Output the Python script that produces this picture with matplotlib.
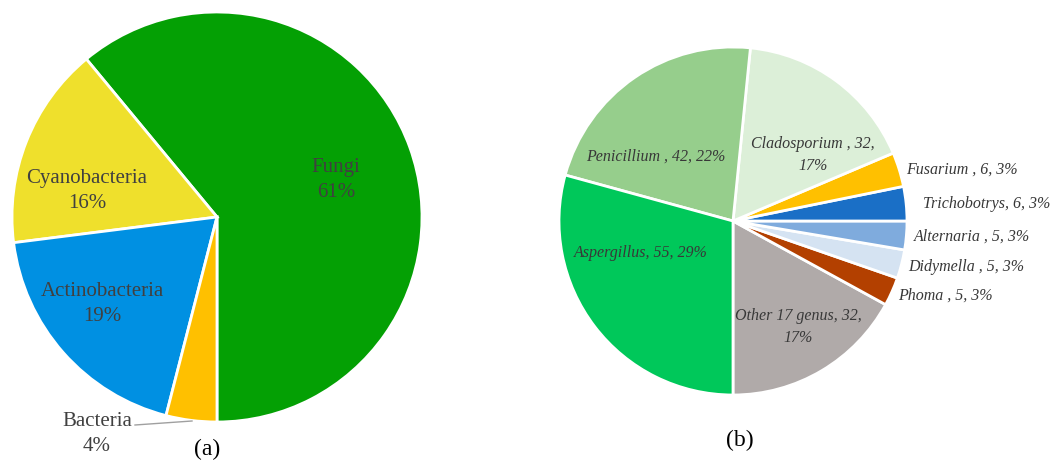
import matplotlib
matplotlib.use("Agg")
import matplotlib.pyplot as plt

# ---- data ----
groups_a = ["Fungi", "Cyanobacteria", "Actinobacteria", "Bacteria"]
pct_a = [61, 16, 19, 4]
colors_a = ["#04a004", "#efe02c", "#0090e2", "#ffc000"]

genera_b = ["Other 17 genus", "Phoma ", "Didymella ", "Alternaria ", "Trichobotrys",
            "Fusarium ", "Cladosporium ", "Penicillium ", "Aspergillus"]
counts_b = [32, 5, 5, 5, 6, 6, 32, 42, 55]
pct_b = [17, 3, 3, 3, 3, 3, 17, 22, 29]
colors_b = ["#b0aaa9", "#b34000", "#d5e3f2", "#7fabdd", "#1a6fc6",
            "#ffc000", "#dcefd8", "#96ce8c", "#00c85a"]

W, H = 1051, 464
fig = plt.figure(figsize=(W / 100, H / 100), dpi=100)
TXT = "#404040"
SERIF = ["Liberation Serif", "DejaVu Serif"]


def make_ax(cx, cy, r):
    ax = fig.add_axes([(cx - r) / W, (H - cy - r) / H, 2 * r / W, 2 * r / H])
    return ax


def fix_ax(ax):
    ax.set_xlim(-1, 1)
    ax.set_ylim(-1, 1)
    ax.set_aspect("equal")
    ax.axis("off")


def pos(px, py, cx, cy, r):
    return (px - cx) / r, (cy - py) / r


# ---- pie (a) ----
cxa, cya, ra = 217, 218, 205
axa = make_ax(cxa, cya, ra)
axa.pie(pct_a, colors=colors_a, startangle=270, counterclock=True, radius=1,
        wedgeprops=dict(edgecolor="white", linewidth=2))
fix_ax(axa)
lab_a = {"Fungi": (336, 180), "Cyanobacteria": (87, 191), "Actinobacteria": (102, 304),
         "Bacteria": (97, 434)}
for g, p in zip(groups_a, pct_a):
    x, y = pos(*lab_a[g], cxa, cya, ra)
    axa.text(x, y, f"{g}\n{p}%", ha="center", va="center", fontsize=15,
             family=SERIF, color=TXT, linespacing=1.45, clip_on=False)
x1, y1 = pos(135, 426, cxa, cya, ra)
x2, y2 = pos(192, 422, cxa, cya, ra)
axa.plot([x1, x2], [y1, y2], color="#a0a0a0", lw=1, clip_on=False)
x, y = pos(207, 449, cxa, cya, ra)
axa.text(x, y, "(a)", ha="center", va="center", fontsize=17, family=SERIF,
         color="black", clip_on=False)

# ---- pie (b) ----
cxb, cyb, rb = 733, 222, 174
axb = make_ax(cxb, cyb, rb)
axb.pie(counts_b, colors=colors_b, startangle=270, counterclock=True, radius=1,
        wedgeprops=dict(edgecolor="white", linewidth=2))
fix_ax(axb)
lab_b = {
    "Other 17 genus": ((798, 327), "center", True),
    "Phoma ": ((898, 296), "left", False),
    "Didymella ": ((908, 267), "left", False),
    "Alternaria ": ((914, 237), "left", False),
    "Trichobotrys": ((923, 204), "left", False),
    "Fusarium ": ((906, 170), "left", False),
    "Cladosporium ": ((813, 155), "center", True),
    "Penicillium ": ((656, 157), "center", False),
    "Aspergillus": ((641, 253), "center", False),
}
for g, c, p in zip(genera_b, counts_b, pct_b):
    (px, py), ha, wrap = lab_b[g]
    x, y = pos(px, py, cxb, cyb, rb)
    s = f"{g}, {c},\n{p}%" if wrap else f"{g}, {c}, {p}%"
    axb.text(x, y, s, ha=ha, va="center", fontsize=11.5, style="italic",
             family=SERIF, color="#383838", linespacing=1.5, clip_on=False)
x, y = pos(740, 440, cxb, cyb, rb)
axb.text(x, y, "(b)", ha="center", va="center", fontsize=17, family=SERIF,
         color="black", clip_on=False)

fig.savefig("out.png", dpi=100, facecolor="white")
